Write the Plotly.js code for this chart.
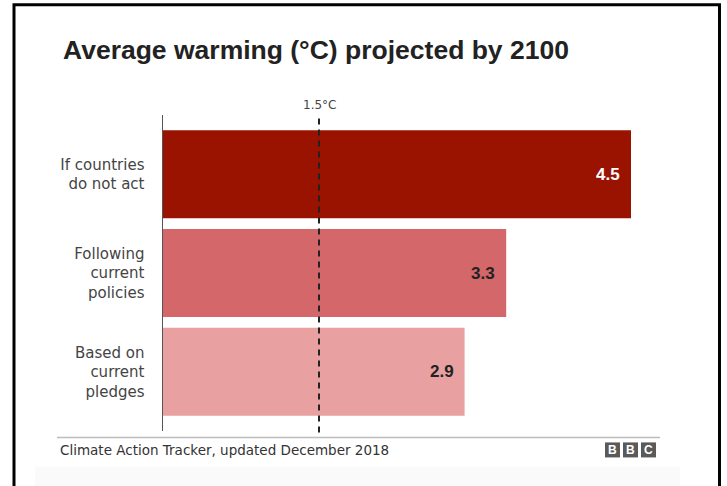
<!DOCTYPE html>
<html>
<head>
<meta charset="utf-8">
<script src="https://cdn.plot.ly/plotly-3.0.1.min.js"></script>
<style>
html,body{margin:0;padding:0;background:#fff;}
#chart{width:727px;height:486px;}
</style>
</head>
<body>
<div id="chart"></div>
<script>
// ---- data ----
var categories = ["If countries<br>do not act", "Following<br>current<br>policies", "Based on<br>current<br>pledges"];
var values = [4.5, 3.3, 2.9];
var valueLabels = ["4.5", "3.3", "2.9"];
var barColors = ["#9a1200", "#d4676a", "#e8a0a1"];
var labelColors = ["#ffffff", "#222222", "#222222"];
var targetValue = 1.5;
var targetLabel = "1.5°C";
var titleText = "Average warming (°C) projected by 2100";
var sourceText = "Climate Action Tracker, updated December 2018";
var logoLetters = ["B", "B", "C"];

// ---- layout geometry (pixels) ----
var W = 727, H = 486;
var mL = 163, mR = 44, mT = 115, mB = 55.4;
var plotW = W - mL - mR, plotH = H - mT - mB;
function px(x){ return (x - mL) / plotW; }
function py(y){ return (H - mB - y) / plotH; }

var shapes = [];
var annotations = [];

// dashed 1.5°C line
shapes.push({type:"line", xref:"x", yref:"paper", x0:targetValue, x1:targetValue, y0:-0.005, y1:1,
  line:{color:"#222", width:2, dash:"6px,5px"}, layer:"above"});
annotations.push({xref:"x", yref:"paper", x:targetValue, y:py(105), text:targetLabel, showarrow:false,
  xanchor:"center", yanchor:"middle", font:{family:"DejaVu Sans", size:12, color:"#444"}});

// value labels
for (var i = 0; i < values.length; i++) {
  annotations.push({xref:"x", yref:"y", x:values[i], y:categories[i], text:"<b>"+valueLabels[i]+"</b>",
    showarrow:false, xanchor:"right", yanchor:"middle", xshift:-9,
    font:{family:"Liberation Sans", size:17, color:labelColors[i]}});
}

// footer
shapes.push({type:"line", xref:"paper", yref:"paper", x0:px(57), x1:px(660), y0:py(437), y1:py(437),
  line:{color:"#bdbdbd", width:1.5}});
annotations.push({xref:"paper", yref:"paper", x:px(58), y:py(449.5), text:sourceText, showarrow:false,
  xanchor:"left", yanchor:"middle", font:{family:"DejaVu Sans", size:13.5, color:"#333"}});
var logoX = [605, 623, 641];
for (var k = 0; k < 3; k++) {
  shapes.push({type:"rect", xref:"paper", yref:"paper", x0:px(logoX[k]), x1:px(logoX[k]+15),
    y0:py(457), y1:py(442), fillcolor:"#5a5a5a", line:{width:0}});
  annotations.push({xref:"paper", yref:"paper", x:px(logoX[k]+7.5), y:py(449.5), text:"<b>"+logoLetters[k]+"</b>",
    showarrow:false, xanchor:"center", yanchor:"middle", font:{family:"Liberation Sans", size:12, color:"#fff"}});
}
// faint band at bottom
shapes.push({type:"rect", xref:"paper", yref:"paper", x0:px(35), x1:px(680), y0:py(490), y1:py(466),
  fillcolor:"#fafafa", line:{width:0}, layer:"below"});
// outer frame
shapes.push({type:"rect", xref:"paper", yref:"paper", x0:px(14), x1:px(719.5), y0:py(495), y1:py(5),
  fillcolor:"rgba(0,0,0,0)", line:{color:"#000", width:3}});

var trace = {
  type:"bar", orientation:"h", x:values, y:categories,
  marker:{color:barColors, line:{width:0}}, width:0.89,
  hoverinfo:"none", textposition:"none"
};

var layout = {
  width:W, height:H,
  margin:{l:mL, r:mR, t:mT, b:mB, pad:0},
  paper_bgcolor:"#fff", plot_bgcolor:"rgba(0,0,0,0)",
  showlegend:false,
  title:{text:"<b>"+titleText+"</b>", xref:"container", yref:"container", x:63/W, xanchor:"left",
    y:1-50/H, yanchor:"middle", font:{family:"Liberation Sans", size:26.5, color:"#222"}},
  xaxis:{range:[0,5], showgrid:false, zeroline:false, showticklabels:false, ticks:"", showline:false, fixedrange:true},
  yaxis:{type:"category", categoryorder:"array", categoryarray:categories, range:[2.6,-0.6],
    showgrid:false, zeroline:false, ticks:"", showline:true, linecolor:"#555", linewidth:1.5,
    ticklabelstandoff:14, tickfont:{family:"DejaVu Sans", size:15, color:"#444"}, fixedrange:true},
  shapes:shapes, annotations:annotations
};

Plotly.newPlot("chart", [trace], layout, {staticPlot:true, displayModeBar:false});
</script>
</body>
</html>
